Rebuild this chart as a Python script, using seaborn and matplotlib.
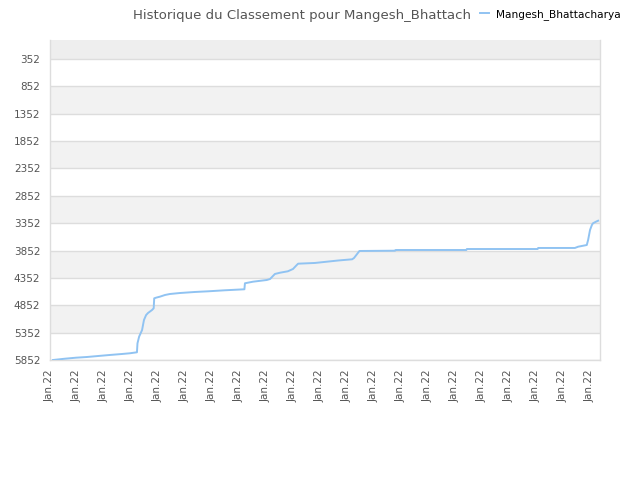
import matplotlib
matplotlib.use("Agg")
import matplotlib.pyplot as plt
import seaborn as sns
import pandas as pd
import numpy as np

# ---- data ----
player = "Mangesh_Bhattacharya"
title_text = "Historique du Classement pour Mangesh_Bhattach"
tick_label = "Jan.22"
n_ticks = 21

# time position (in tick units) and rank
time_pos = [0.11, 0.56, 0.96, 1.37, 1.78, 2.22, 2.67, 2.96, 3.22, 3.24, 3.30, 3.41,
            3.48, 3.56, 3.63, 3.78, 3.84, 3.86, 3.93, 4.07, 4.26, 4.44, 4.81, 5.37,
            5.85, 6.48, 7.20, 7.22, 7.52, 8.03, 8.15, 8.33, 8.52, 8.81, 9.00, 9.14,
            9.19, 9.81, 10.25, 10.67, 11.19, 11.26, 11.36, 11.46, 12.78, 12.80, 15.42,
            15.44, 18.06, 18.08, 19.44, 19.56, 19.88, 19.93, 20.00, 20.07, 20.11,
            20.22, 20.30]
rank = [5852, 5828, 5810, 5797, 5779, 5760, 5742, 5729, 5711, 5547, 5426, 5304,
        5121, 5030, 4993, 4938, 4907, 4725, 4713, 4695, 4664, 4646, 4628, 4609,
        4597, 4578, 4560, 4450, 4421, 4390, 4372, 4280, 4257, 4231, 4189, 4116,
        4092, 4079, 4056, 4034, 4012, 3988, 3924, 3860, 3855, 3842, 3842,
        3824, 3824, 3805, 3805, 3782, 3751, 3659, 3477, 3385, 3354,
        3325, 3307]

y_ticks = list(range(352, 5853, 500))
y_top, y_bottom = 5, 5852
x_max = 20.37

df = pd.DataFrame({"t": time_pos, "rank": rank, "player": player})

fig = plt.figure(figsize=(6.4, 4.8), dpi=100)
ax = fig.add_axes([50/640, 120/480, 550/640, 320/480])

# alternating background bands
edges = [y_top] + y_ticks
for i in range(len(edges) - 1):
    if i == 0:
        col = "#eeeeee"
    elif i % 2 == 0:
        col = "#f2f2f2"
    else:
        col = "#ffffff"
    ax.axhspan(edges[i], edges[i + 1], color=col, zorder=0, lw=0)

for yt in y_ticks:
    ax.axhline(yt, color="#dddddd", lw=1, zorder=1)

sns.lineplot(data=df, x="t", y="rank", ax=ax, color="#90c3f2", lw=1.4,
             label=player, zorder=3)

ax.set_ylim(y_bottom, y_top)
ax.set_xlim(0, x_max)
ax.set_yticks(y_ticks)
ax.set_yticklabels([str(v) for v in y_ticks])
ax.set_xticks(list(range(n_ticks)))
ax.set_xticklabels([tick_label] * n_ticks, rotation=90)
ax.tick_params(axis="both", length=0, labelsize=7.5, labelcolor="#555555", pad=7)
ax.set_xlabel("")
ax.set_ylabel("")
ax.grid(False)

for s in ["left", "right", "bottom"]:
    ax.spines[s].set_color("#dddddd")
    ax.spines[s].set_linewidth(1)
ax.spines["top"].set_visible(False)

fig.text(133/640, 1 - 15/480, title_text, ha="left", va="center",
         fontsize=9.5, color="#555555")

leg = ax.legend(loc="upper left", bbox_to_anchor=(480/640, 1 - 9/480),
                bbox_transform=fig.transFigure, frameon=False, fontsize=7.6,
                handlelength=0.85, handletextpad=0.7, borderpad=0, borderaxespad=0)

fig.savefig("out.png", dpi=100)
